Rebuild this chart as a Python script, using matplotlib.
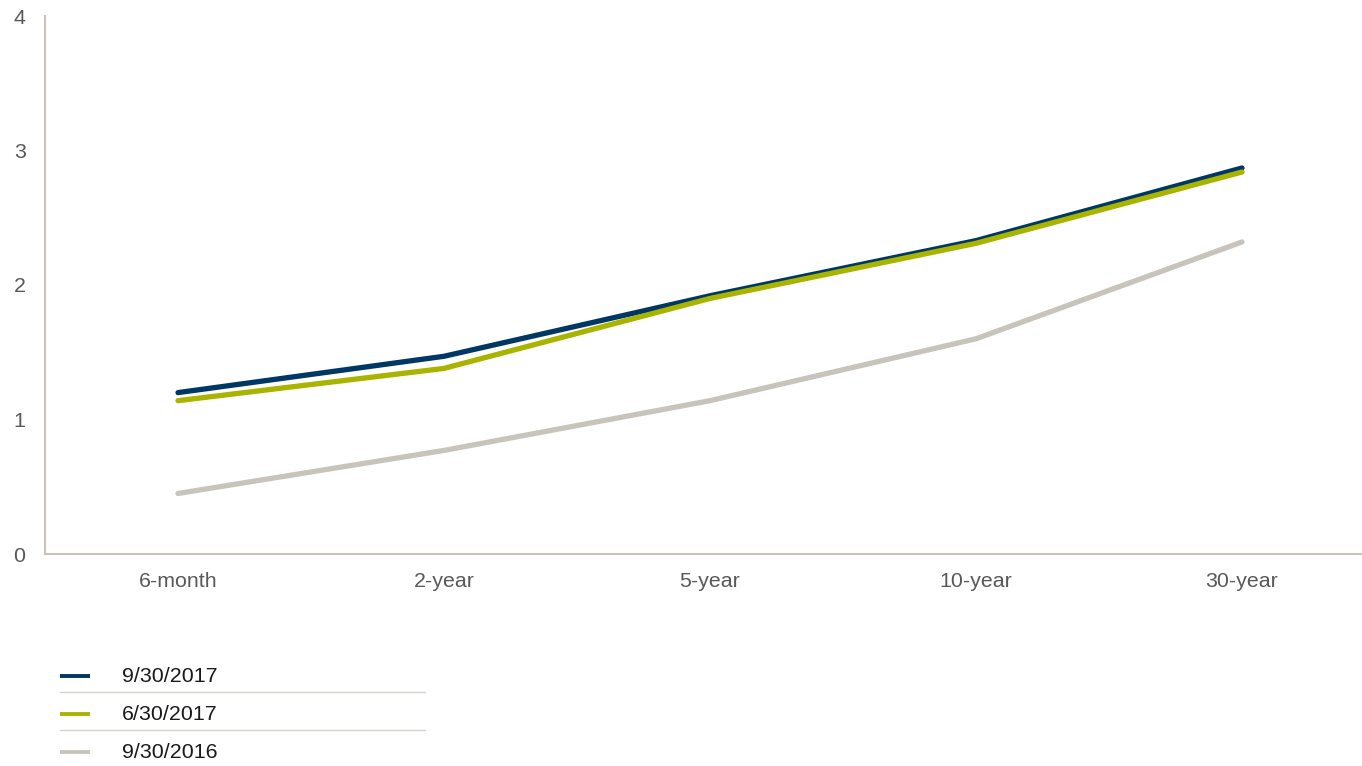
import matplotlib
matplotlib.use("Agg")
import matplotlib.pyplot as plt
from matplotlib.lines import Line2D

plt.rcParams['font.family'] = ['Liberation Sans', 'DejaVu Sans']

categories = ["6-month", "2-year", "5-year", "10-year", "30-year"]
series_names = ["9/30/2017", "6/30/2017", "9/30/2016"]
s_2017_09 = [1.20, 1.47, 1.92, 2.33, 2.87]
s_2017_06 = [1.14, 1.38, 1.90, 2.31, 2.84]
s_2016_09 = [0.45, 0.77, 1.14, 1.60, 2.32]
colors = ["#003865", "#a8b400", "#c9c4bb"]
y_ticks = [0, 1, 2, 3, 4]

W, H = 1362, 766
fig = plt.figure(figsize=(W / 100, H / 100), dpi=100)
ax = fig.add_axes([45 / W, 1 - 554 / H, 1330 / W, (554 - 16) / H])

x = list(range(len(categories)))
values = [s_2017_09, s_2017_06, s_2016_09]
zorders = [3, 4, 2]
for name, vals, c, z in zip(series_names, values, colors, zorders):
    ax.plot(x, vals, color=c, lw=3.8, solid_capstyle='round', zorder=z, label=name)

ax.set_xlim(-0.5, len(categories) - 0.5)
ax.set_ylim(0, 4)
ax.set_xticks(x)
ax.set_xticklabels(categories)
ax.set_yticks(y_ticks)
ax.set_yticklabels([str(t) for t in y_ticks])
ax.tick_params(axis='both', length=0, labelsize=15.4, labelcolor='#595959')
ax.tick_params(axis='x', pad=13)
ax.tick_params(axis='y', pad=14)
for s in ['top', 'right']:
    ax.spines[s].set_visible(False)
for s in ['left', 'bottom']:
    ax.spines[s].set_color('#c9c4bb')
    ax.spines[s].set_linewidth(1.5)

# Legend drawn below
leg_y = [676, 714, 752]
for i, (name, c) in enumerate(zip(series_names, colors)):
    yy = 1 - leg_y[i] / H
    fig.add_artist(Line2D([60 / W, 90 / W], [yy, yy], color=c, lw=2.8,
                          solid_capstyle='butt', transform=fig.transFigure))
    fig.text(122 / W, yy, name, fontsize=15.4, color='#1a1a1a', va='center', ha='left')
    if i < len(series_names) - 1:
        sy = 1 - (leg_y[i] + 16) / H
        fig.add_artist(Line2D([60 / W, 425 / W], [sy, sy], color='#d6d2cc', lw=1.0,
                              transform=fig.transFigure))

fig.savefig("out.png", dpi=100)
